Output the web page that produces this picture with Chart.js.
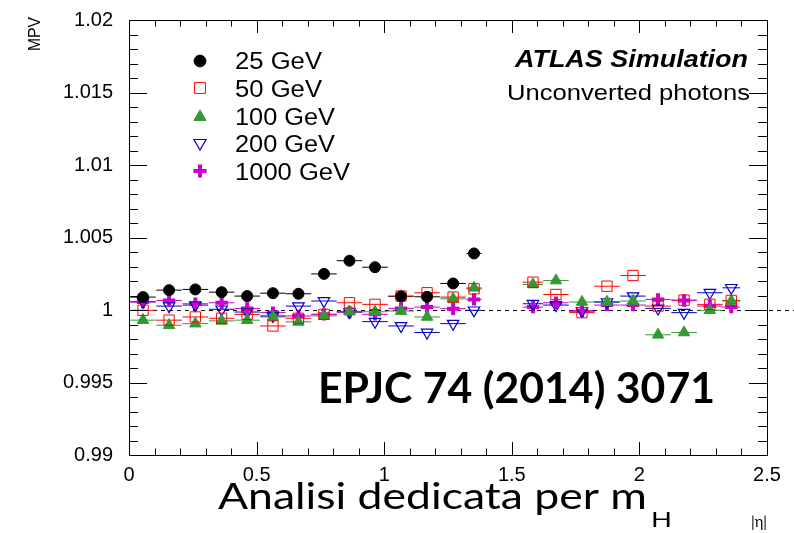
<!DOCTYPE html>
<html>
<head>
<meta charset="utf-8">
<script src="https://cdn.jsdelivr.net/npm/chart.js@4.4.1/dist/chart.umd.min.js"></script>
<style>
  html, body { margin: 0; padding: 0; background: #fff; }
  #wrap { width: 794px; height: 533px; position: relative; }
</style>
</head>
<body>
<div id="wrap"><canvas id="mpvChart" width="794" height="533"></canvas></div>
<script>
// |eta| bin centres and half widths
const eta    = [0.055, 0.157, 0.26, 0.363, 0.463, 0.564, 0.664, 0.764, 0.864, 0.964, 1.066, 1.168, 1.27, 1.352,
                1.583, 1.673, 1.775, 1.873, 1.975, 2.073, 2.175, 2.276, 2.36];
const etaErr = [0.05, 0.05, 0.05, 0.05, 0.05, 0.05, 0.05, 0.05, 0.05, 0.05, 0.05, 0.05, 0.05, 0.03,
                0.04, 0.05, 0.05, 0.05, 0.05, 0.05, 0.05, 0.05, 0.035];

// MPV per energy point
const mpv25   = [1.00089, 1.00137, 1.00142, 1.00123, 1.00096, 1.00116, 1.00112, 1.00249, 1.0034, 1.00295,
                 1.00094, 1.00091, 1.00183, 1.0039];
const mpv50   = [0.99998, 0.9993, 0.99952, 0.99943, 0.9997, 0.9989, 0.99943, 0.9997, 1.0005, 1.00039,
                 1.00096, 1.00119, 1.00089, 1.00146,
                 1.00192, 1.00107, 0.99982, 1.00164, 1.00238, 1.00027, 1.00068, 1.00039, 1.00066];
const mpv100  = [0.9993, 0.99895, 0.99906, 0.99925, 0.9993, 0.99952, 0.99918, 0.99959, 0.99988, 0.99988,
                 0.99993, 0.99952, 1.00077, 1.00153,
                 1.00176, 1.00203, 1.00055, 1.00055, 1.00062, 0.99829, 0.99845, 0.99998, 1.00062];
const mpv200  = [1.00057, 1.00027, 1.00034, 1.00005, 0.99986, 0.99959, 1.00027, 1.00062, 0.99986, 0.9992,
                 0.9989, 0.99845, 0.99906, 0.99998,
                 1.00043, 1.00034, 0.99993, 1.00055, 1.00096, 1.00011, 0.99982, 1.00119, 1.00153];
const mpv1000 = [1.00055, 1.00066, 1.00043, 1.0005, 1.00011, 0.99982, 0.99959, 0.9997, 0.99986, 0.9997,
                 1.00011, 1.0002, 1.00009, 1.00073,
                 1.0002, 1.0005, 0.99993, 1.00034, 1.00034, 1.00073, 1.00066, 1.00027, 1.0002];

const seriesNames = ['25 GeV', '50 GeV', '100 GeV', '200 GeV', '1000 GeV'];
const xTickLabels = ['0', '0.5', '1', '1.5', '2', '2.5'];
const yTickLabels = ['0.99', '0.995', '1', '1.005', '1.01', '1.015', '1.02'];

const HELV = '"Liberation Sans", Arial, sans-serif';
const GILL = 'Lato, "Open Sans", sans-serif';

const series = [
  { values: mpv25,   color: '#000000', style: 'circle',   radius: 5.5, fill: true,  rot: 0,   bw: 1 },
  { values: mpv50,   color: '#ff0000', style: 'rect',     radius: 7.3, fill: false, rot: 0,   bw: 1 },
  { values: mpv100,  color: '#339933', style: 'triangle', radius: 6.6, fill: true,  rot: 0,   bw: 1 },
  { values: mpv200,  color: '#0000cc', style: 'triangle', radius: 6.6, fill: false, rot: 180, bw: 1.2 },
  { values: mpv1000, color: '#cc00cc', style: 'cross',    radius: 6.2, fill: true,  rot: 0,   bw: 4 }
];

const datasets = series.map((s, i) => ({
  label: seriesNames[i],
  data: s.values.map((v, k) => ({ x: eta[k], y: v, xe: etaErr[k] })),
  pointStyle: s.style,
  pointRadius: s.radius,
  pointRotation: s.rot,
  pointBorderWidth: s.bw,
  borderColor: s.color,
  backgroundColor: s.fill ? s.color : 'rgba(0,0,0,0)',
  showLine: false
}));

// text squeezed/stretched to the width it has in the picture
function fitText(ctx, text, x, y, font, width, align) {
  ctx.save();
  ctx.font = font;
  const w = ctx.measureText(text).width;
  const sx = width / w;
  const left = align === 'right' ? x - width : x;
  ctx.translate(left, y);
  ctx.scale(sx, 1);
  ctx.textAlign = 'left';
  ctx.fillText(text, 0, 0);
  ctx.restore();
}

// horizontal error bars, reference line, ROOT-style frame and ticks, texts
const rootDecor = {
  id: 'rootDecor',
  beforeDatasetsDraw(chart) {
    const ctx = chart.ctx, xs = chart.scales.x, ys = chart.scales.y, a = chart.chartArea;
    ctx.save();
    ctx.strokeStyle = '#000';
    ctx.lineWidth = 1;
    ctx.setLineDash([4, 4]);
    ctx.beginPath();
    const y1 = Math.round(ys.getPixelForValue(1)) + 0.5;
    ctx.moveTo(a.left, y1);
    ctx.lineTo(chart.width, y1);
    ctx.stroke();
    ctx.setLineDash([]);
    chart.data.datasets.forEach((ds) => {
      ctx.strokeStyle = ds.borderColor;
      ctx.lineWidth = 1;
      ds.data.forEach((p) => {
        const y = ys.getPixelForValue(p.y);
        ctx.beginPath();
        ctx.moveTo(xs.getPixelForValue(p.x - p.xe), y);
        ctx.lineTo(xs.getPixelForValue(p.x + p.xe), y);
        ctx.stroke();
      });
    });
    ctx.restore();
  },
  afterDraw(chart) {
    const ctx = chart.ctx, xs = chart.scales.x, ys = chart.scales.y, a = chart.chartArea;
    ctx.save();
    ctx.strokeStyle = '#000';
    ctx.lineWidth = 1;
    ctx.strokeRect(Math.round(a.left) + 0.5, Math.round(a.top) + 0.5,
                   Math.round(a.right - a.left), Math.round(a.bottom - a.top));
    ctx.beginPath();
    for (let k = 0; k <= 25; k++) {
      const px = Math.round(xs.getPixelForValue(k * 0.1)) + 0.5;
      const len = (k % 5 === 0) ? 13 : 6.5;
      ctx.moveTo(px, a.bottom); ctx.lineTo(px, a.bottom - len);
      ctx.moveTo(px, a.top);    ctx.lineTo(px, a.top + len);
    }
    for (let k = 0; k <= 30; k++) {
      const py = Math.round(ys.getPixelForValue(0.99 + k * 0.001)) + 0.5;
      const len = (k % 5 === 0) ? 18 : 9;
      ctx.moveTo(a.left, py);  ctx.lineTo(a.left + len, py);
      ctx.moveTo(a.right, py); ctx.lineTo(a.right - len, py);
    }
    ctx.stroke();

    // legend
    const H = Chart.helpers;
    ctx.textBaseline = 'alphabetic';
    const markY = [61, 88, 117, 143, 171];
    const textY = [69, 97, 125, 152, 180];
    const textW = [87, 87, 100, 100, 115];
    chart.data.datasets.forEach((ds, i) => {
      ctx.fillStyle = ds.backgroundColor;
      ctx.strokeStyle = ds.borderColor;
      ctx.lineWidth = ds.pointBorderWidth;
      H.drawPoint(ctx, { pointStyle: ds.pointStyle, radius: ds.pointRadius + 0.4, rotation: ds.pointRotation,
                         borderWidth: ds.pointBorderWidth }, 200, markY[i]);
      ctx.fillStyle = '#000';
      fitText(ctx, ds.label, 235, textY[i], '23px ' + HELV, textW[i], 'left');
    });

    // labels
    ctx.fillStyle = '#000';
    fitText(ctx, 'ATLAS Simulation', 748, 67, 'italic bold 24px ' + HELV, 233, 'right');
    fitText(ctx, 'Unconverted photons', 750, 100, '22px ' + HELV, 243, 'right');
    fitText(ctx, 'EPJC 74 (2014) 3071', 318, 403, 'bold 42px ' + GILL, 397, 'left');
    fitText(ctx, 'Analisi dedicata per m', 218, 509, '37px ' + GILL, 429, 'left');
    fitText(ctx, 'H', 651, 527, '22px ' + GILL, 21, 'left');
    fitText(ctx, '|η|', 767, 527, '15px ' + GILL, 16, 'right');

    ctx.translate(40, 17);
    ctx.rotate(-Math.PI / 2);
    fitText(ctx, 'MPV', 0, 0, '17px ' + HELV, 34, 'right');
    ctx.restore();
  }
};

new Chart(document.getElementById('mpvChart'), {
  type: 'scatter',
  data: { datasets: datasets },
  plugins: [rootDecor],
  options: {
    responsive: false,
    animation: false,
    layout: { padding: { left: 0, right: 27, top: 17, bottom: 0 } },
    plugins: { legend: { display: false }, tooltip: { enabled: false } },
    scales: {
      x: {
        type: 'linear', min: 0, max: 2.5,
        grid: { display: false },
        border: { display: false },
        afterFit(scale) { scale.height = 78; },
        ticks: {
          stepSize: 0.5, padding: 0, color: '#000',
          font: { size: 20, family: HELV },
          callback: (v) => xTickLabels[Math.round(v / 0.5)]
        }
      },
      y: {
        type: 'linear', min: 0.99, max: 1.02,
        grid: { display: false },
        border: { display: false },
        afterFit(scale) { scale.width = 129; },
        ticks: {
          stepSize: 0.005, padding: 8, color: '#000',
          font: { size: 20, family: HELV },
          callback: (v) => yTickLabels[Math.round((v - 0.99) / 0.005)]
        }
      }
    }
  }
});
</script>
</body>
</html>
